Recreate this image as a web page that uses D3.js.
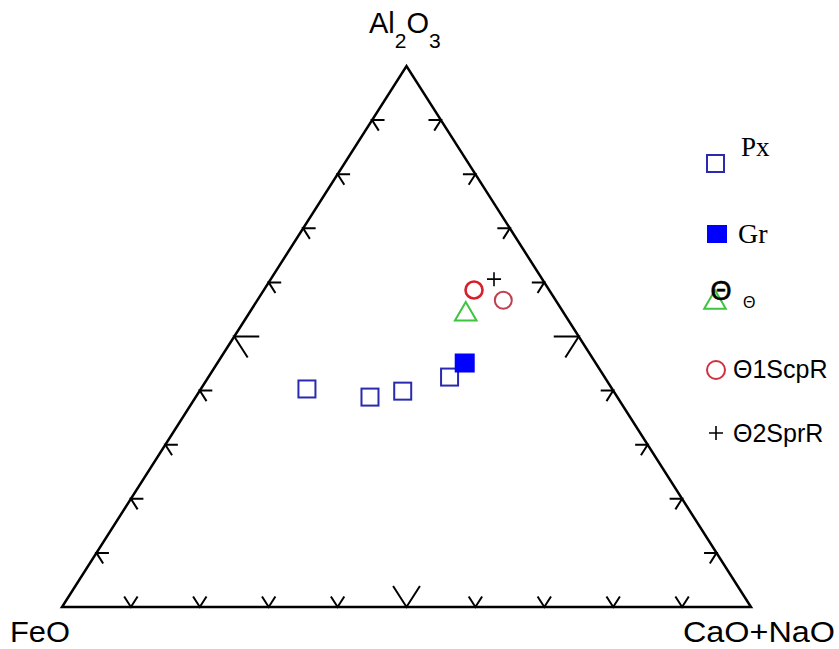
<!DOCTYPE html>
<html><head><meta charset="utf-8">
<script src="https://cdn.jsdelivr.net/npm/d3@7"></script>
<style>body{margin:0;background:#fff}svg{display:block}</style>
</head><body>
<svg id="c" width="839" height="649"></svg>
<script>
// Ternary components: Al2O3 (top), FeO (left), CaO+NaO (right), in %
const categories = ["Px", "Gr", "Θ", "Θ1ScpR", "Θ2SprR"];
const pxAl2O3 = [40.3, 38.8, 39.9, 42.5];
const pxFeO   = [44.3, 35.9, 30.6, 22.5];
const pxCaNa  = [15.4, 25.3, 29.5, 35.0];
const grAl2O3 = [45.1]; const grFeO = [19.0]; const grCaNa = [35.9];
const thAl2O3 = [54.2]; const thFeO = [14.3]; const thCaNa = [31.5];
const scAl2O3 = [58.6, 56.7]; const scFeO = [10.9, 7.6]; const scCaNa = [30.5, 35.7];
const spAl2O3 = [60.6]; const spFeO = [7.0]; const spCaNa = [32.4];
const tickValues = [10, 20, 30, 40, 50, 60, 70, 80, 90];
const vertexLabels = ["FeO", "CaO+NaO"];

(function () {
const svg = d3.select("#c");
const xL = 62, xR = 751, yB = 607, yT = 66;
const xs = d3.scaleLinear().domain([0, 100]).range([xL, xR]);
const ys = d3.scaleLinear().domain([0, 100]).range([yB, yT]);
function pos(a, b, c) { const s = a + b + c; a = a / s * 100; c = c / s * 100; return [xs(c + a / 2), ys(a)]; }

const pL = pos(0, 100, 0), pR = pos(0, 0, 100), pT = pos(100, 0, 0);
svg.append("path").attr("d", `M${pL}L${pR}L${pT}Z`).attr("fill", "none")
  .attr("stroke", "#000").attr("stroke-width", 2.5).attr("stroke-linejoin", "miter");

function unit(p, q) { const dx = q[0] - p[0], dy = q[1] - p[1], l = Math.hypot(dx, dy); return [dx / l, dy / l]; }
const edges = [
  { f: v => pos(0, 100 - v, v), d1: unit(pL, pT), d2: unit(pR, pT) },   // bottom
  { f: v => pos(v, 100 - v, 0), d1: unit(pL, pR), d2: unit(pT, pR) },   // left
  { f: v => pos(v, 0, 100 - v), d1: unit(pR, pL), d2: unit(pT, pL) }    // right
];
const tg = svg.append("g").attr("stroke", "#000").attr("stroke-width", 2).attr("fill", "none");
edges.forEach(e => {
  tickValues.forEach(v => {
    const p = e.f(v), L = v === 50 ? 25 : 12.5;
    tg.append("path").attr("d",
      `M${p[0] + e.d1[0] * L},${p[1] + e.d1[1] * L}L${p[0]},${p[1]}L${p[0] + e.d2[0] * L},${p[1] + e.d2[1] * L}`);
  });
});

// Vertex labels
const font = "'Liberation Sans', Arial, sans-serif";
const topLabel = svg.append("text").attr("x", 369).attr("y", 33).attr("font-family", font).attr("font-size", 29).attr("fill", "#000");
topLabel.append("tspan").text("Al");
topLabel.append("tspan").attr("dy", 15).attr("font-size", 21).text("2");
topLabel.append("tspan").attr("dy", -15).text("O");
topLabel.append("tspan").attr("dy", 15).attr("font-size", 21).text("3");
svg.append("text").attr("x", 10).attr("y", 642).attr("font-family", font).attr("font-size", 29)
  .attr("textLength", 60).attr("lengthAdjust", "spacingAndGlyphs").text(vertexLabels[0]);
svg.append("text").attr("x", 683).attr("y", 642).attr("font-family", font).attr("font-size", 29)
  .attr("textLength", 152).attr("lengthAdjust", "spacingAndGlyphs").text(vertexLabels[1]);

// Data points
const g = svg.append("g");
pxAl2O3.forEach((a, i) => {
  const [x, y] = pos(a, pxFeO[i], pxCaNa[i]);
  g.append("rect").attr("x", x - 8.5).attr("y", y - 8.5).attr("width", 17).attr("height", 17)
    .attr("fill", "none").attr("stroke", "#2a2ab0").attr("stroke-width", 2);
});
grAl2O3.forEach((a, i) => {
  const [x, y] = pos(a, grFeO[i], grCaNa[i]);
  g.append("rect").attr("x", x - 10).attr("y", y - 9.5).attr("width", 20).attr("height", 19).attr("fill", "#0000ff");
});
const tri = (x, y, s) => `M${x},${y - s * 0.66}L${x + s * 0.6},${y + s * 0.38}L${x - s * 0.6},${y + s * 0.38}Z`;
thAl2O3.forEach((a, i) => {
  const [x, y] = pos(a, thFeO[i], thCaNa[i]);
  g.append("path").attr("d", tri(x, y, 18)).attr("fill", "none").attr("stroke", "#3ec43e").attr("stroke-width", 2);
});
scAl2O3.forEach((a, i) => {
  const [x, y] = pos(a, scFeO[i], scCaNa[i]);
  g.append("circle").attr("cx", x).attr("cy", y).attr("r", 8.5)
    .attr("fill", "none").attr("stroke", i === 0 ? "#d8202c" : "#c04050").attr("stroke-width", i === 0 ? 2.6 : 2);
});
const plus = (x, y, s) => `M${x - s},${y}H${x + s}M${x},${y - s}V${y + s}`;
spAl2O3.forEach((a, i) => {
  const [x, y] = pos(a, spFeO[i], spCaNa[i]);
  g.append("path").attr("d", plus(x, y, 7)).attr("stroke", "#000").attr("stroke-width", 1.6);
});

// Legend
const lg = svg.append("g");
const serif = "'Liberation Serif', 'Times New Roman', serif";
lg.append("rect").attr("x", 707).attr("y", 155).attr("width", 17).attr("height", 17).attr("fill", "none").attr("stroke", "#2a2ab0").attr("stroke-width", 2);
lg.append("text").attr("x", 741).attr("y", 156).attr("font-family", serif).attr("font-size", 27).text(categories[0]);
lg.append("rect").attr("x", 707).attr("y", 225).attr("width", 20).attr("height", 18).attr("fill", "#0000ff");
lg.append("text").attr("x", 738).attr("y", 243).attr("font-family", serif).attr("font-size", 28).text(categories[1]);
lg.append("path").attr("d", tri(715, 302, 18)).attr("fill", "none").attr("stroke", "#3ec43e").attr("stroke-width", 2);
lg.append("text").attr("x", 721).attr("y", 300).attr("text-anchor", "middle").attr("font-family", font).attr("font-size", 27)
  .attr("stroke", "#000").attr("stroke-width", 0.6).text(categories[2]);
lg.append("text").attr("x", 743).attr("y", 308).attr("font-family", font).attr("font-size", 16).text(categories[2]);
lg.append("circle").attr("cx", 716).attr("cy", 370).attr("r", 9).attr("fill", "none").attr("stroke", "#d03040").attr("stroke-width", 2);
lg.append("text").attr("x", 733).attr("y", 378).attr("font-family", font).attr("font-size", 25).text(categories[3]);
lg.append("path").attr("d", plus(716, 433, 7)).attr("stroke", "#000").attr("stroke-width", 1.6);
lg.append("text").attr("x", 733).attr("y", 442).attr("font-family", font).attr("font-size", 25).text(categories[4]);
})();
</script>
</body></html>
